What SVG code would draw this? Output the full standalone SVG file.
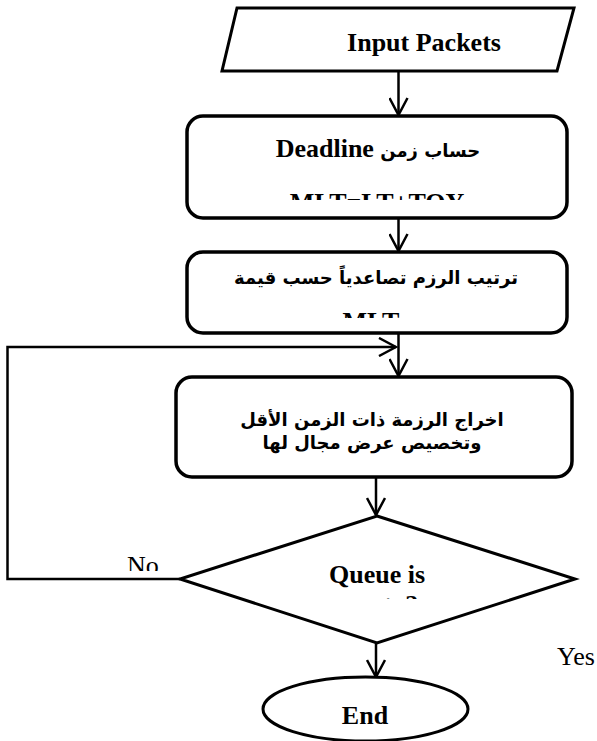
<svg xmlns="http://www.w3.org/2000/svg" width="597" height="741" viewBox="0 0 597 741">
  <style>
    .shape { fill: #fff; stroke: #000; stroke-width: 3; }
    .box { fill: #fff; stroke: #000; stroke-width: 3.5; }
    .conn { fill: none; stroke: #000; stroke-width: 2.5; }
    .lat { font-family: "Liberation Serif", "Times New Roman", serif; font-size: 26px; fill: #000; }
    .b { font-weight: bold; }
    .ar { font-family: "DejaVu Sans", "Liberation Sans", sans-serif; font-weight: bold; font-size: 18px; fill: #000; }
  </style>
  <defs>
    <marker id="arrow" viewBox="0 0 20 20" refX="18" refY="10" markerWidth="20" markerHeight="20" markerUnits="userSpaceOnUse" orient="auto">
      <path d="M1,1 L18,10 L1,19" fill="none" stroke="#000" stroke-width="2.5"/>
    </marker>
    <clipPath id="clipBox1"><rect x="187" y="116" width="380" height="84"/></clipPath>
    <clipPath id="clipBox2"><rect x="187" y="252" width="380" height="66"/></clipPath>
    <clipPath id="clipDecision"><rect x="180" y="516" width="395" height="83"/></clipPath>
    <clipPath id="clipNo"><rect x="100" y="540" width="80" height="31"/></clipPath>
  </defs>

  <!-- connectors -->
  <g id="connectors">
    <line class="conn" x1="398.5" y1="71" x2="398.5" y2="115" marker-end="url(#arrow)"/>
    <line class="conn" x1="398.5" y1="218" x2="398.5" y2="251" marker-end="url(#arrow)"/>
    <line class="conn" x1="398.5" y1="333" x2="398.5" y2="376" marker-end="url(#arrow)"/>
    <line class="conn" x1="376" y1="477" x2="376" y2="515" marker-end="url(#arrow)"/>
    <line class="conn" x1="376" y1="643" x2="376" y2="677" marker-end="url(#arrow)"/>
    <polyline class="conn" points="180,579 7.5,579 7.5,347 396,347" marker-end="url(#arrow)"/>
    <text class="lat" x="127" y="574" clip-path="url(#clipNo)">No</text>
    <text class="lat" x="557" y="665">Yes</text>
  </g>

  <!-- input -->
  <g id="input">
    <polygon class="shape" points="237,8 574,8 557,71 222,71"/>
    <text class="lat b" x="424" y="51" text-anchor="middle">Input Packets</text>
  </g>

  <!-- deadline computation -->
  <g id="deadline">
    <rect class="box" x="187" y="116" width="380" height="102" rx="16"/>
    <g clip-path="url(#clipBox1)">
      <text x="378" y="157" text-anchor="middle"><tspan class="lat b">Deadline</tspan><tspan class="ar" font-size="20"> حساب زمن</tspan></text>
      <text class="lat b" x="377" y="211" text-anchor="middle">MLT=LT+TOY</text>
    </g>
  </g>

  <!-- sort -->
  <g id="sort">
    <rect class="box" x="187" y="252" width="380" height="81" rx="16"/>
    <g clip-path="url(#clipBox2)">
      <text class="ar" x="376" y="284" text-anchor="middle">ترتيب الرزم تصاعدياً حسب قيمة</text>
      <text class="lat b" x="371" y="330" text-anchor="middle">MLT</text>
    </g>
  </g>

  <!-- output -->
  <g id="output">
    <rect class="box" x="176" y="377" width="396" height="100" rx="16"/>
    <text class="ar" x="372" y="426" text-anchor="middle">اخراج الرزمة ذات الزمن الأقل</text>
    <text class="ar" x="372" y="449" text-anchor="middle">وتخصيص عرض مجال لها</text>
  </g>

  <!-- decision -->
  <g id="decision">
    <polygon class="shape" points="377,516 575,579 377,643 180,579"/>
    <g clip-path="url(#clipDecision)">
      <text class="lat b" x="377" y="583" text-anchor="middle">Queue is</text>
      <text class="lat b" x="377" y="613" text-anchor="middle">empty?</text>
    </g>
  </g>

  <!-- end -->
  <g id="end">
    <ellipse class="shape" cx="365.5" cy="709" rx="102.5" ry="32"/>
    <text class="lat b" x="365" y="724" text-anchor="middle">End</text>
  </g>
</svg>
